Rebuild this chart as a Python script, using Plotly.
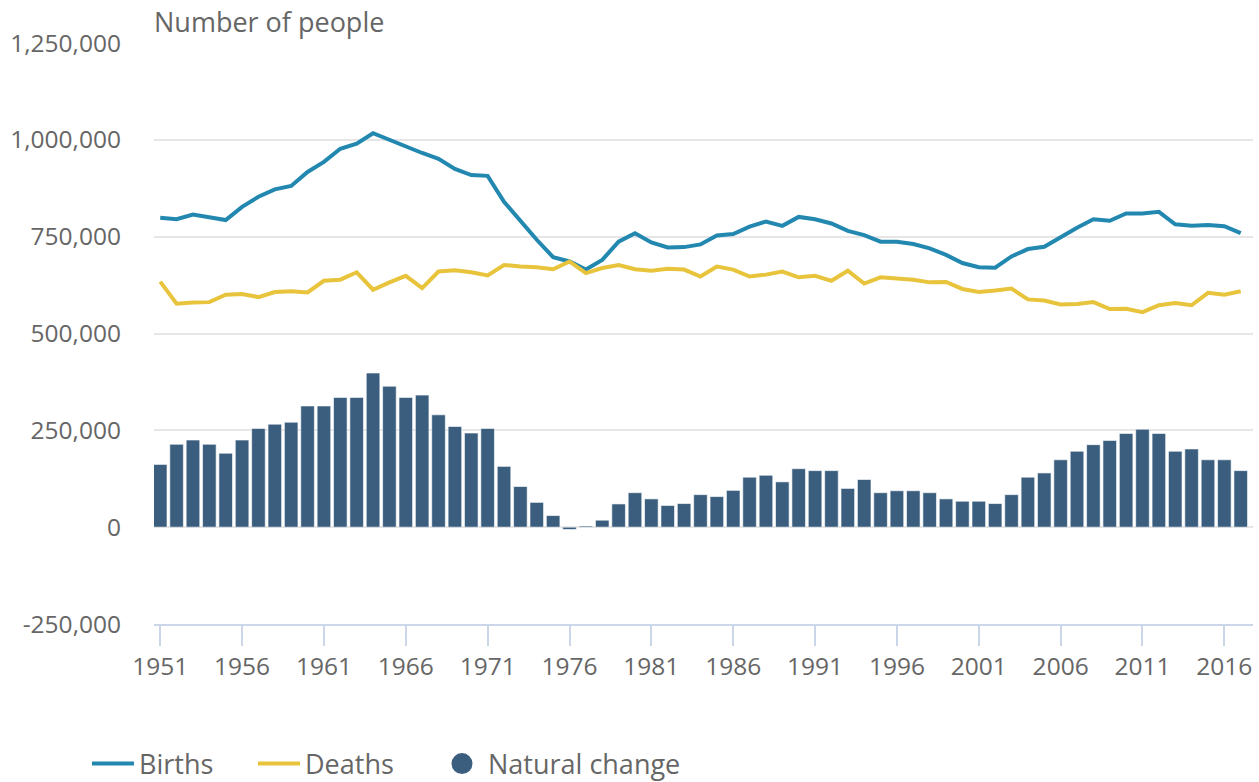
import plotly.graph_objects as go

years = list(range(1951, 2018))

births = [799, 795, 807, 799, 793, 827, 853, 872, 881, 917,
          943, 977, 990, 1017, 1000, 981, 966, 951, 925, 909,
          907, 840, 789, 742, 697, 686, 665, 690, 737, 759,
          735, 722, 723, 730, 753, 757, 776, 789, 778, 801,
          795, 784, 765, 754, 737, 737, 731, 720, 703, 682,
          671, 670, 699, 718, 724, 750, 773, 795, 791, 810,
          810, 814, 782, 778, 780, 777, 759]

deaths = [634, 577, 580, 581, 600, 602, 594, 607, 609, 606,
          636, 639, 658, 613, 632, 649, 617, 660, 663, 658,
          650, 677, 673, 671, 666, 686, 656, 669, 677, 666,
          662, 667, 665, 647, 673, 665, 647, 652, 660, 645,
          649, 636, 662, 629, 645, 643, 639, 632, 633, 615,
          607, 611, 616, 588, 585, 575, 576, 581, 563, 564,
          555, 573, 579, 573, 605, 600, 609]

natural_change = [162, 214, 225, 214, 191, 225, 255, 266, 271, 313,
                  313, 335, 335, 398, 364, 335, 341, 290, 260, 243,
                  255, 157, 105, 64, 30, -6, 3, 18, 60, 89,
                  73, 56, 61, 84, 79, 95, 129, 134, 117, 151,
                  146, 146, 100, 123, 89, 94, 94, 89, 73, 67,
                  67, 61, 84, 129, 140, 174, 196, 213, 224, 242,
                  253, 242, 196, 202, 174, 174, 146]

y_ticks = [-250000, 0, 250000, 500000, 750000, 1000000, 1250000]
y_labels = ['-250,000', '0', '250,000', '500,000', '750,000', '1,000,000', '1,250,000']
x_ticks = list(range(1951, 2017, 5))

# values above are read in thousands
births = [v * 1000 for v in births]
deaths = [v * 1000 for v in deaths]
natural_change = [v * 1000 for v in natural_change]

c_births = '#2388b0'
c_deaths = '#e8c43c'
c_change = '#3b5e7f'
c_text = '#666666'
font = 'Open Sans'


def graph():
    fig = go.Figure()
    fig.add_trace(go.Bar(x=years, y=natural_change, name='Natural change', showlegend=False,
                         marker=dict(color=c_change, line=dict(color='rgba(255,255,255,0.6)', width=1)),
                         hovertemplate='%{x}: %{y:,}<extra>Natural change</extra>'))
    fig.add_trace(go.Scatter(x=years, y=births, mode='lines', name='Births', legend='legend',
                             line=dict(color=c_births, width=4)))
    fig.add_trace(go.Scatter(x=years, y=deaths, mode='lines', name='Deaths', legend='legend2',
                             line=dict(color=c_deaths, width=4)))
    # legend-only entry so natural change shows a round marker like the original
    fig.add_trace(go.Scatter(x=[None], y=[None], mode='markers', name='Natural change', legend='legend3',
                             marker=dict(color=c_change, size=22, symbol='circle',
                                         line=dict(color=c_change, width=5))))

    leg = dict(orientation='h', xref='container', yref='container', yanchor='middle', y=18 / 782,
               font=dict(family=font, size=27, color=c_text), bgcolor='rgba(0,0,0,0)',
               itemsizing='trace', itemwidth=42)
    fig.update_layout(
        width=1259, height=782,
        margin=dict(l=154, r=6, t=43, b=158),
        plot_bgcolor='#FFFFFF', paper_bgcolor='#FFFFFF',
        font=dict(family=font, color=c_text),
        bargap=0.17,
        legend=dict(leg, x=87 / 1259),
        legend2=dict(leg, x=253 / 1259),
        legend3=dict(leg, x=436 / 1259),
        annotations=[dict(text='Number of people', xref='paper', yref='paper', x=-0.002, y=1 + 21 / 581,
                          xanchor='left', yanchor='middle', showarrow=False,
                          font=dict(family=font, size=27, color=c_text))],
    )
    fig.update_xaxes(range=[1950.62, 2017.75], tickvals=x_ticks, ticks='outside', ticklen=20,
                     tickwidth=2, tickcolor='#ccd6eb', showline=True, linecolor='#ccd6eb', linewidth=2,
                     showgrid=False, zeroline=False, tickfont=dict(size=24.5, color=c_text))
    fig.update_yaxes(range=[-250000, 1250000], tickvals=y_ticks, ticktext=y_labels, showgrid=True,
                     gridcolor='#e6e6e6', gridwidth=2, zeroline=False, showline=False,
                     ticklabelstandoff=32, tickfont=dict(size=24.5, color=c_text))
    return fig


fig = graph()
fig.write_html("out.html", config={'displayModeBar': False},
               post_script="document.body.style.margin='0px';")
